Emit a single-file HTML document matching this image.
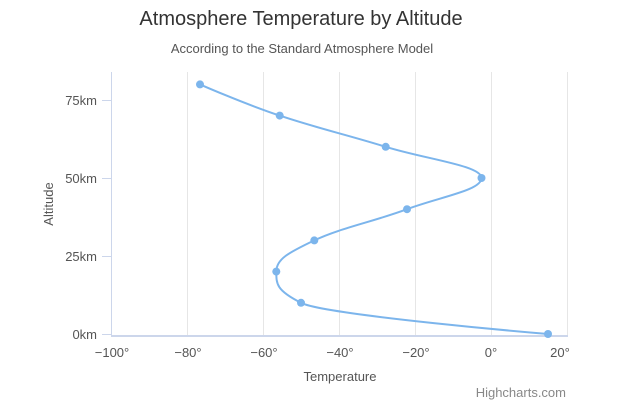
<!DOCTYPE html>
<html><head><style>body{margin:0;background:#fff}svg{display:block;font-family:"Liberation Sans",sans-serif}</style></head><body>
<svg width="626" height="413" xmlns="http://www.w3.org/2000/svg">
<text x="301" y="25" text-anchor="middle" font-size="20" fill="#333">Atmosphere Temperature by Altitude</text>
<text x="302" y="53" text-anchor="middle" font-size="13" fill="#555">According to the Standard Atmosphere Model</text>
<g stroke="#e6e6e6" stroke-width="1">
<line x1="187.5" y1="72" x2="187.5" y2="336"/><line x1="263.5" y1="72" x2="263.5" y2="336"/>
<line x1="339.5" y1="72" x2="339.5" y2="336"/><line x1="415.5" y1="72" x2="415.5" y2="336"/>
<line x1="491.5" y1="72" x2="491.5" y2="336"/><line x1="567.5" y1="72" x2="567.5" y2="336"/>
</g>
<g stroke="#ccd6eb" stroke-width="1">
<line x1="111.5" y1="72" x2="111.5" y2="336"/>
<line x1="102" y1="100.5" x2="111" y2="100.5"/><line x1="102" y1="178.5" x2="111" y2="178.5"/>
<line x1="102" y1="256.5" x2="111" y2="256.5"/><line x1="102" y1="334.5" x2="111" y2="334.5"/>
</g>
<line x1="111" y1="336" x2="568" y2="336" stroke="#ccd6eb" stroke-width="2"/>
<g font-size="13" fill="#555" text-anchor="end">
<text x="97" y="105">75km</text><text x="97" y="183">50km</text><text x="97" y="261">25km</text><text x="97" y="339">0km</text>
</g>
<g font-size="13" fill="#555" text-anchor="middle">
<text x="112" y="357">−100°</text><text x="188" y="357">−80°</text><text x="264" y="357">−60°</text>
<text x="340" y="357">−40°</text><text x="416" y="357">−20°</text><text x="491" y="357">0°</text><text x="560" y="357">20°</text>
</g>
<text x="340" y="381" text-anchor="middle" font-size="13" fill="#555">Temperature</text>
<text transform="translate(53,204) rotate(-90)" text-anchor="middle" font-size="13" fill="#555">Altitude</text>
<text x="566" y="397" text-anchor="end" font-size="13" fill="#888">Highcharts.com</text>
<path d="M548 334 C548 334 325.7 315.28 301 302.8 C276.3 290.32 276.3 284.08 276.3 271.6 C276.3 259.12 288.16 252.88 314.3 240.4 C340.44 227.92 373.56 221.68 407 209.2 C440.44 196.72 481.5 190.48 481.5 178 C481.5 165.52 426.06 159.28 385.7 146.8 C345.34 134.32 316.84 128.08 279.7 115.6 C242.56 103.12 200 84.4 200 84.4" fill="none" stroke="#7cb5ec" stroke-width="2"/>
<g fill="#7cb5ec">
<circle cx="548" cy="334" r="4"/><circle cx="301" cy="302.8" r="4"/><circle cx="276.3" cy="271.6" r="4"/>
<circle cx="314.3" cy="240.4" r="4"/><circle cx="407" cy="209.2" r="4"/><circle cx="481.5" cy="178" r="4"/>
<circle cx="385.7" cy="146.8" r="4"/><circle cx="279.7" cy="115.6" r="4"/><circle cx="200" cy="84.4" r="4"/>
</g>
</svg>
</body></html>
